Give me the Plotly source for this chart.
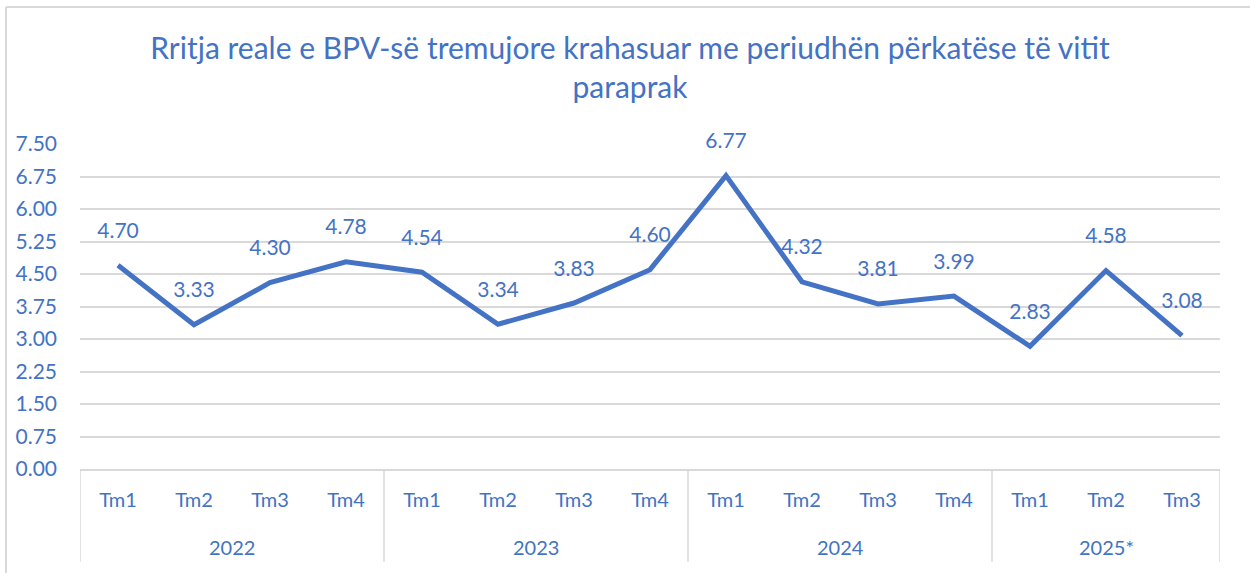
import plotly.graph_objects as go

quarters = ["Tm1", "Tm2", "Tm3", "Tm4", "Tm1", "Tm2", "Tm3", "Tm4",
            "Tm1", "Tm2", "Tm3", "Tm4", "Tm1", "Tm2", "Tm3"]
years = ["2022", "2023", "2024", "2025*"]
year_counts = [4, 4, 4, 3]
growth = [4.70, 3.33, 4.30, 4.78, 4.54, 3.34, 3.83, 4.60,
          6.77, 4.32, 3.81, 3.99, 2.83, 4.58, 3.08]
y_ticks = [0.00, 0.75, 1.50, 2.25, 3.00, 3.75, 4.50, 5.25, 6.00, 6.75, 7.50]

BLUE = "#4472C4"
GRID = "#D9D9D9"
FONT = "Lato, 'Open Sans', sans-serif"

W, H = 1250, 573
L, R = 80, 1220
T, B = 144, 469
pw, ph = R - L, B - T

xs = list(range(len(growth)))

fig = go.Figure()
fig.add_trace(go.Scatter(
    x=xs, y=growth, mode="lines",
    line=dict(color=BLUE, width=5),
    hoverinfo="skip", showlegend=False,
))
fig.add_trace(go.Scatter(
    x=xs, y=growth, mode="markers+text",
    marker=dict(size=34, color="rgba(0,0,0,0)"),
    text=[f"{v:.2f}" for v in growth],
    textposition="top center",
    textfont=dict(color=BLUE, size=21, family=FONT),
    cliponaxis=False,
    hoverinfo="skip", showlegend=False,
))

shapes = []
# category dividers
bounds = [-0.5]
for c in year_counts:
    bounds.append(bounds[-1] + c)
yb = (B - 562) / ph
for b in bounds:
    shapes.append(dict(type="line", xref="x", yref="paper", x0=b, x1=b,
                       y0=0, y1=yb, line=dict(color=GRID, width=1.5)))
# outer chart border (left and top)
xl = (6 - L) / pw
yt = (B - 7) / ph
xr = (W - L) / pw
shapes.append(dict(type="line", xref="paper", yref="paper", x0=xl, x1=xl,
                   y0=yt, y1=(B - 580) / ph, line=dict(color=GRID, width=2)))
shapes.append(dict(type="line", xref="paper", yref="paper", x0=xl, x1=xr + 0.01,
                   y0=yt, y1=yt, line=dict(color=GRID, width=2)))

annotations = []
start = -0.5
for yr, c in zip(years, year_counts):
    annotations.append(dict(
        x=start + c / 2, y=(B - 547) / ph, xref="x", yref="paper",
        text=yr, showarrow=False, yanchor="middle", xanchor="center",
        font=dict(color=BLUE, size=20, family=FONT)))
    start += c

fig.update_layout(
    width=W, height=H,
    margin=dict(l=L, r=W - R, t=T, b=H - B, pad=0),
    paper_bgcolor="white", plot_bgcolor="white",
    title=dict(
        text="Rritja reale e BPV-së tremujore krahasuar me periudhën përkatëse të vitit<br>paraprak",
        x=0.504, xref="container", xanchor="center",
        y=1 - 59 / H, yref="container", yanchor="middle",
        font=dict(color=BLUE, size=30, family=FONT),
    ),
    xaxis=dict(
        range=[-0.5, len(growth) - 0.5],
        tickmode="array", tickvals=xs, ticktext=quarters,
        showgrid=False, zeroline=False, showline=True,
        linecolor=GRID, linewidth=1.5, ticks="",
        tickfont=dict(color=BLUE, size=20, family=FONT),
        ticklabelstandoff=12,
        fixedrange=True,
    ),
    yaxis=dict(
        range=[0, 7.5], tickmode="array", tickvals=y_ticks,
        ticktext=[f"{v:.2f}" for v in y_ticks],
        showgrid=True, gridcolor=GRID, gridwidth=1.5,
        zeroline=False, showline=False, ticks="",
        tickfont=dict(color=BLUE, size=21, family=FONT),
        ticklabelstandoff=22,
        fixedrange=True,
    ),
    shapes=shapes,
    annotations=annotations,
)

fig.write_html("out.html", config={"displayModeBar": False},
               post_script="document.body.style.margin='0';")
